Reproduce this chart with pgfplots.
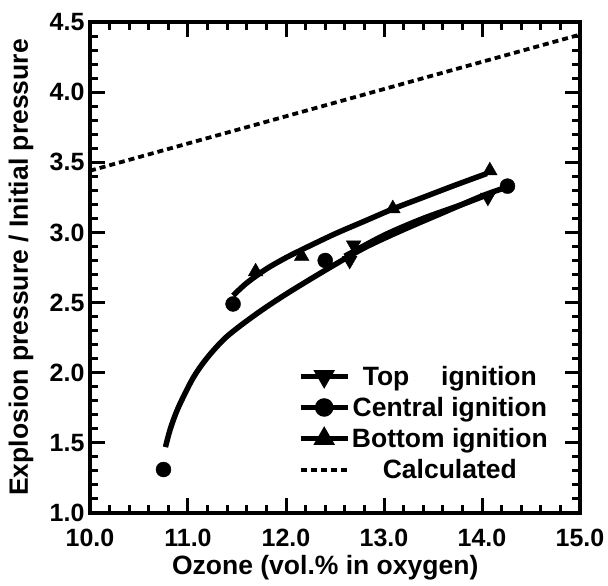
\documentclass[border=0pt]{standalone}
\usepackage{fontspec}
\setmainfont{Liberation Sans}
\usepackage{pgfplots}
\pgfplotsset{compat=1.18}
\begin{document}
\begin{tikzpicture}
\begin{axis}[
  scale only axis,
  width=490pt, height=491pt,
  xmin=10, xmax=15, ymin=1, ymax=4.5,
  xtick={10,11,12,13,14,15},
  ytick={1,1.5,2,2.5,3,3.5,4,4.5},
  minor x tick num=4,
  minor y tick num=4,
  tick align=inside,
  major tick length=15pt,
  minor tick length=8pt,
  every tick/.style={line width=3pt, black},
  axis line style={line width=4.5pt},
  tick label style={font=\fontsize{25}{29}\selectfont\bfseries},
  xticklabel style={yshift=-13pt},
  yticklabel style={xshift=-2pt},
  /pgf/number format/.cd, fixed, fixed zerofill, precision=1, assume math mode=true,
  /pgfplots/.cd,
  xlabel={Ozone (vol.\% in oxygen)},
  ylabel={Explosion pressure / Initial pressure},
  label style={font=\fontsize{26.5}{31}\selectfont\bfseries},
  xlabel style={at={(axis description cs:0.48,0)}, anchor=center, yshift=-55pt},
  ylabel style={at={(axis description cs:-0.141,0.5)}, anchor=center},
  legend style={draw=none, fill=none, at={(axis description cs:0.425,0.304)}, anchor=north west,
    font=\fontsize{26.5}{31}\selectfont\bfseries, row sep=6.5pt, inner sep=0pt},
  legend cell align=center,
  legend image code/.code={\draw[#1] (0pt,0pt) -- (47pt,0pt); \path[#1, only marks] plot coordinates {(23.5pt,0pt)};},
  clip=false,
]
\coordinate (bl) at (rel axis cs:0,0);
\coordinate (tr) at (rel axis cs:1,1);
% calculated
\addplot[black, line width=3.8pt, dash pattern=on 6pt off 4pt, forget plot] coordinates {(10,3.44) (15,4.41)};
% central ignition curve
\addplot[black, line width=5.5pt, smooth, forget plot] coordinates {
 (10.77,1.47) (10.82,1.60) (10.90,1.75) (11.05,1.96) (11.20,2.11) (11.40,2.26)
 (11.70,2.42) (12.00,2.56) (12.40,2.73) (12.80,2.89) (13.20,3.02) (13.60,3.14)
 (14.00,3.26) (14.20,3.31)};
% top ignition curve
\addplot[black, line width=5.5pt, smooth, forget plot] coordinates {
 (12.60,2.83) (13.00,2.98) (13.40,3.10) (13.80,3.20) (14.06,3.27)};
% bottom ignition curve
\addplot[black, line width=5.5pt, smooth, forget plot] coordinates {
 (11.46,2.55) (11.60,2.64) (11.80,2.74) (12.00,2.82) (12.20,2.89) (12.50,2.99)
 (12.80,3.08) (13.10,3.17) (13.40,3.25) (13.70,3.33) (14.05,3.42)};
% marks
\addplot[only marks, mark=triangle*, mark size=8.5pt, mark options={rotate=180, fill=black}, forget plot] coordinates {
 (12.65,2.80) (12.69,2.91) (14.06,3.25)};
\addplot[only marks, mark=*, mark size=7.5pt, mark options={fill=black}, forget plot] coordinates {
 (10.75,1.31) (11.46,2.49) (12.40,2.80) (14.26,3.33)};
\addplot[only marks, mark=triangle*, mark size=8.5pt, mark options={fill=black}, forget plot] coordinates {
 (11.69,2.72) (12.16,2.83) (13.09,3.17) (14.08,3.44)};
% legend
\addlegendimage{black, line width=4.5pt, mark=triangle*, mark size=8pt, mark options={rotate=180, fill=black}}
\addlegendentry{Top\hspace{1.2em}ignition}
\addlegendimage{black, line width=4.5pt, mark=*, mark size=7pt, mark options={fill=black}}
\addlegendentry{Central ignition}
\addlegendimage{black, line width=4.5pt, mark=triangle*, mark size=8pt, mark options={fill=black}}
\addlegendentry{Bottom ignition}
\addlegendimage{black, line width=3.8pt, dash pattern=on 6pt off 4pt}
\addlegendentry{Calculated}
\end{axis}
\pgfresetboundingbox
\path ([xshift=-90pt,yshift=-73pt]bl) rectangle ([xshift=28pt,yshift=22pt]tr);
\end{tikzpicture}
\end{document}
